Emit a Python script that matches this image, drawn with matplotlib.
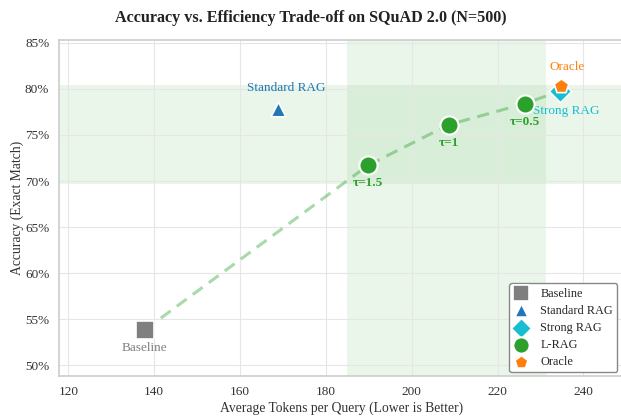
import matplotlib
matplotlib.use("Agg")
import matplotlib.pyplot as plt
import seaborn as sns
import numpy as np

# values
baseline_x, baseline_y = 137.8, 53.85
std_x, std_y = 168.8, 77.8
strong_x, strong_y = 234.5, 79.75
oracle_x, oracle_y = 234.7, 80.3
lrag_x = [189.8, 208.6, 226.3]
lrag_y = [71.7, 76.1, 78.4]
lrag_tau = ['τ=1.5', 'τ=1', 'τ=0.5']

sns.set_style("whitegrid")
plt.rcParams['font.family'] = ['Liberation Serif', 'DejaVu Serif']

fig = plt.figure(figsize=(6.21, 4.2), dpi=100)
ax = fig.add_axes([59 / 621, 1 - 376 / 420, 566 / 621, 336 / 420])

# shaded L-RAG operating region
ax.axvspan(min(lrag_x) - 5, max(lrag_x) + 5, color='#2ca02c', alpha=0.09, lw=0, zorder=0)
ax.axhspan(min(lrag_y) - 2, max(lrag_y) + 2, color='#2ca02c', alpha=0.09, lw=0, zorder=0)

# frontier line
fx = [baseline_x] + lrag_x + [strong_x]
fy = [baseline_y] + lrag_y + [strong_y]
ax.plot(fx, fy, '--', color='#2ca02c', alpha=0.4, lw=2.2, dashes=(4, 2.5), zorder=1)

ax.scatter([baseline_x], [baseline_y], marker='s', s=150, color='#7f7f7f', edgecolor='white', lw=1.2, label='Baseline', zorder=3)
ax.scatter([std_x], [std_y], marker='^', s=110, color='#1f77b4', edgecolor='white', lw=1.2, label='Standard RAG', zorder=3)
ax.scatter([strong_x], [strong_y], marker='D', s=130, color='#17becf', edgecolor='white', lw=1.2, label='Strong RAG', zorder=3)
ax.scatter(lrag_x, lrag_y, marker='o', s=170, color='#2ca02c', edgecolor='white', lw=1.5, label='L-RAG', zorder=4)
ax.scatter([oracle_x], [oracle_y], marker='p', s=120, color='#ff7f0e', edgecolor='white', lw=1.2, label='Oracle', zorder=5)

ax.annotate('Baseline', (baseline_x, baseline_y), xytext=(0, -13), textcoords='offset points',
            ha='center', va='center', fontsize=9.5, color='#7f7f7f')
ax.annotate('Standard RAG', (std_x, std_y), xytext=(6, 15), textcoords='offset points',
            ha='center', va='center', fontsize=9.5, color='#1f77b4')
ax.annotate('Strong RAG', (strong_x, strong_y), xytext=(5, -14), textcoords='offset points',
            ha='center', va='center', fontsize=9.5, color='#17becf')
ax.annotate('Oracle', (oracle_x, oracle_y), xytext=(5, 14), textcoords='offset points',
            ha='center', va='center', fontsize=9.5, color='#ff7f0e')
for x, y, t in zip(lrag_x, lrag_y, lrag_tau):
    ax.annotate(t, (x, y), xytext=(0, -13), textcoords='offset points',
                ha='center', va='center', fontsize=9.5, color='#2ca02c', fontweight='bold')

allx = [baseline_x, std_x, strong_x, oracle_x] + lrag_x
ally = [baseline_y, std_y, strong_y, oracle_y] + lrag_y
ax.set_xlim(min(allx) - 20, max(allx) + 15)
ax.set_ylim(min(ally) - 5, max(ally) + 5)
ax.set_xticks(np.arange(120, 250, 20))
ax.set_yticks(np.arange(50, 86, 5))
ax.set_yticklabels([f'{v}%' for v in range(50, 86, 5)])
ax.tick_params(labelsize=9.5, colors='#333333')
ax.grid(color='#e6e6e6', lw=0.8)
for s in ax.spines.values():
    s.set_color('#cccccc')
    s.set_linewidth(1.2)

ax.set_xlabel('Average Tokens per Query (Lower is Better)', fontsize=9.8, color='#333333', labelpad=3)
ax.set_ylabel('Accuracy (Exact Match)', fontsize=9.8, color='#333333', labelpad=1)
fig.suptitle('Accuracy vs. Efficiency Trade-off on SQuAD 2.0 (N=500)', x=0.5, y=0.975,
             fontsize=11.6, fontweight='bold', color='#222222')

ax.legend(loc='lower right', fontsize=8.8, frameon=True, edgecolor='#888888', framealpha=1,
          markerscale=0.9, borderpad=0.35, labelspacing=0.42, handlelength=1.3,
          handletextpad=0.9, borderaxespad=0.3, bbox_to_anchor=(1 - 4 / 566, 0))

fig.savefig('out.png', dpi=100)
